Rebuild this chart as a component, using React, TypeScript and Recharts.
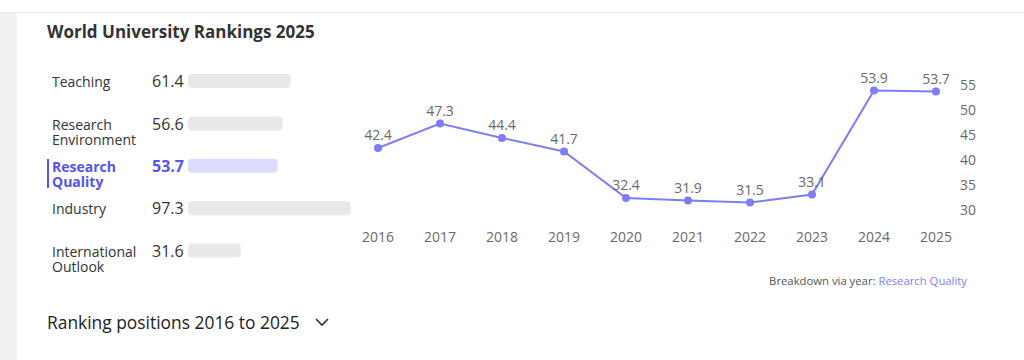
import React from "react";
import {
  LineChart,
  Line,
  XAxis,
  YAxis,
  LabelList,
  BarChart,
  Bar,
  Cell,
} from "recharts";

// ─── Data ────────────────────────────────────────────────────────────────────

const years = ["2016", "2017", "2018", "2019", "2020", "2021", "2022", "2023", "2024", "2025"];
const researchQuality = [42.4, 47.3, 44.4, 41.7, 32.4, 31.9, 31.5, 33.1, 53.9, 53.7];
const yTicks = [30, 35, 40, 45, 50, 55];

const pillarNames = ["Teaching", "Research Environment", "Research Quality", "Industry", "International Outlook"];
const pillarScores = [61.4, 56.6, 53.7, 97.3, 31.6];
const activePillar = "Research Quality";

// ─── Styles ──────────────────────────────────────────────────────────────────

const FONT = "'Open Sans', 'Noto Sans', sans-serif";
const ACCENT = "#7d7ef7";
const ACCENT_DARK = "#5455f0";
const TEXT_GREY = "#6a6a6a";

const lineData = years.map((y, i) => ({ year: y, value: researchQuality[i] }));
const pillarData = pillarNames.map((n, i) => ({ name: n, score: pillarScores[i] }));

// ─── Pillar tick: label + score ──────────────────────────────────────────────

function PillarTick({ y, payload }: any) {
  const name: string = payload.value;
  const row = pillarData.find((p) => p.name === name);
  const active = name === activePillar;
  const lines = name.split(" ");
  const color = active ? ACCENT_DARK : "#333";
  return (
    <g>
      {active && <rect x={0} y={y - 7} width={2} height={29} fill={ACCENT_DARK} />}
      <text
        x={5}
        y={y}
        fontFamily={FONT}
        fontSize={14}
        fontWeight={active ? 700 : 400}
        fill={color}
        dominantBaseline="central"
      >
        {lines.map((l, i) => (
          <tspan key={l} x={5} dy={i === 0 ? 0 : 15}>
            {l}
          </tspan>
        ))}
      </text>
      <text
        x={105}
        y={y}
        fontFamily={FONT}
        fontSize={16}
        fontWeight={active ? 700 : 400}
        fill={color}
        dominantBaseline="central"
      >
        {row?.score.toFixed(1)}
      </text>
    </g>
  );
}

// ─── Main ────────────────────────────────────────────────────────────────────

export default function App() {
  return (
    <div
      style={{
        position: "absolute",
        left: 0,
        top: 0,
        width: 1024,
        height: 360,
        background: "#fff",
        fontFamily: FONT,
        overflow: "hidden",
      }}
    >
      {/* page frame */}
      <div style={{ position: "absolute", left: 0, top: 12, width: 1024, height: 1, background: "#e6e6e6" }} />
      <div style={{ position: "absolute", left: 0, top: 13, width: 17, height: 347, background: "#f1f1f1" }} />

      <div
        style={{
          position: "absolute",
          left: 47,
          top: 20,
          fontSize: 17,
          fontWeight: 700,
          color: "#333",
          whiteSpace: "nowrap",
        }}
      >
        World University Rankings 2025
      </div>

      {/* Pillar scores */}
      <div style={{ position: "absolute", left: 47, top: 60 }}>
        <BarChart
          width={308}
          height={232}
          layout="vertical"
          data={pillarData}
          margin={{ top: 0, right: 0, bottom: 20, left: 0 }}
          barSize={14}
        >
          <XAxis type="number" domain={[0, 100]} hide />
          <YAxis
            type="category"
            dataKey="name"
            width={141}
            axisLine={false}
            tickLine={false}
            tick={<PillarTick />}
          />
          <Bar dataKey="score" radius={4} isAnimationActive={false}>
            {pillarData.map((p) => (
              <Cell key={p.name} fill={p.name === activePillar ? "#dcdcfd" : "#e8e8e8"} />
            ))}
          </Bar>
        </BarChart>
      </div>

      {/* Research Quality by year */}
      <div style={{ position: "absolute", left: 350, top: 60 }}>
        <LineChart
          width={636}
          height={190}
          data={lineData}
          margin={{ top: 25, right: 0, bottom: 0, left: 28 }}
        >
          <XAxis
            dataKey="year"
            axisLine={false}
            tickLine={false}
            tickMargin={16}
            height={40}
            interval={0}
            tick={{ fill: TEXT_GREY, fontSize: 14, fontFamily: FONT }}
          />
          <YAxis
            orientation="right"
            domain={[30, 55]}
            ticks={yTicks}
            axisLine={false}
            tickLine={false}
            tickMargin={18}
            width={50}
            tick={{ fill: TEXT_GREY, fontSize: 14, fontFamily: FONT }}
          />
          <Line
            type="linear"
            dataKey="value"
            stroke={ACCENT}
            strokeWidth={2}
            dot={{ r: 4, fill: ACCENT, stroke: ACCENT, strokeWidth: 0 }}
            activeDot={false}
            isAnimationActive={false}
          >
            <LabelList
              dataKey="value"
              position="top"
              offset={8}
              fill={TEXT_GREY}
              fontSize={14}
              fontFamily={FONT}
            />
          </Line>
        </LineChart>
      </div>

      <div
        style={{
          position: "absolute",
          right: 1024 - 967,
          top: 273,
          fontSize: 11.3,
          color: "#555",
          whiteSpace: "nowrap",
        }}
      >
        Breakdown via year: <span style={{ color: ACCENT }}>Research Quality</span>
      </div>

      <div
        style={{
          position: "absolute",
          left: 47,
          top: 310,
          fontSize: 17.4,
          color: "#222",
          whiteSpace: "nowrap",
        }}
      >
        Ranking positions 2016 to 2025
      </div>
      <svg style={{ position: "absolute", left: 314, top: 316 }} width={16} height={12}>
        <polyline points="2,3 8,9 14,3" fill="none" stroke="#333" strokeWidth={1.6} />
      </svg>
    </div>
  );
}
